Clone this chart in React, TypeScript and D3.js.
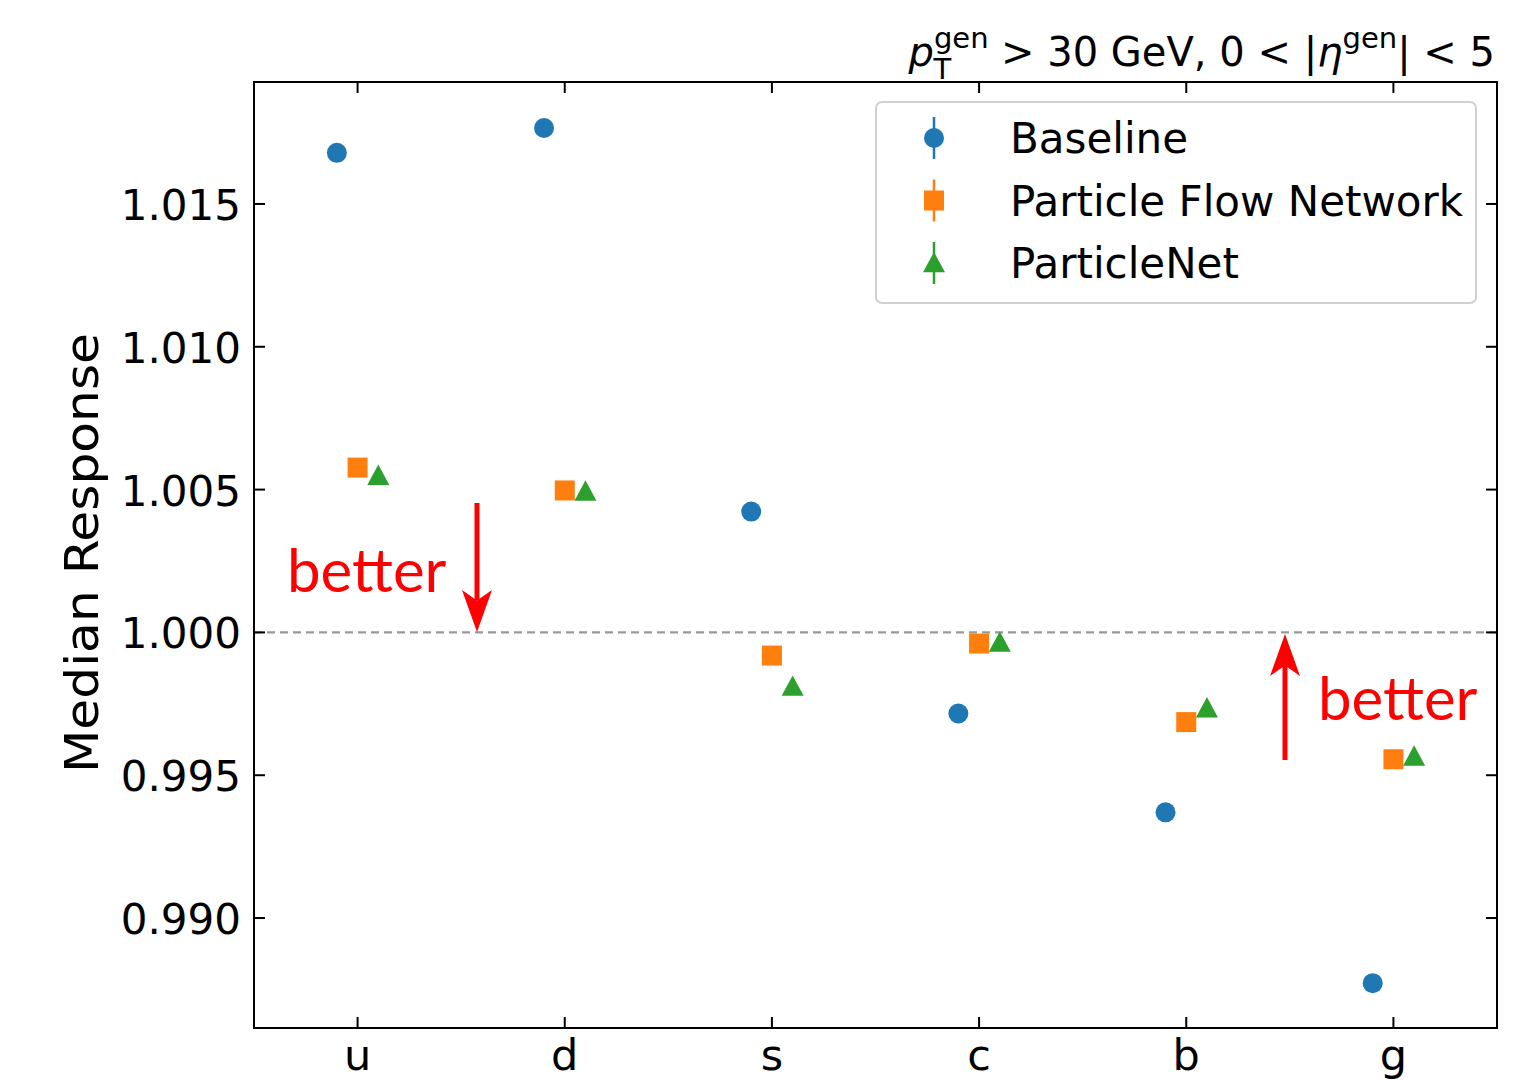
import React from "react";
import * as d3 from "d3";

const categories = ["u", "d", "s", "c", "b", "g"];
const baseline = [1.01679, 1.01766, 1.00423, 0.99716, 0.9937, 0.98772];
const pfn = [1.00577, 1.00497, 0.99919, 0.99961, 0.99686, 0.99556];
const particleNet = [1.00549, 1.00494, 0.99811, 0.99965, 0.99735, 0.99566];
const yTicks = [0.99, 0.995, 1.0, 1.005, 1.01, 1.015];
const seriesNames = ["Baseline", "Particle Flow Network", "ParticleNet"];
const seriesColors = ["#1f77b4", "#ff7f0e", "#2ca02c"];
const seriesOffsets = [-0.1, 0, 0.1];

const W = 1533, H = 1080;
const L = 254, R = 1497, T = 82, B = 1028;

export default function App() {
  const x = d3.scaleLinear().domain([-0.5, 5.5]).range([L, R]);
  const y = d3.scaleLinear().domain([0.98615, 1.01927]).range([B, T]);
  const font = "DejaVu Sans";
  const all = [baseline, pfn, particleNet];

  const marker = (s: number, cx: number, cy: number, key: string) => {
    const c = seriesColors[s];
    if (s === 0) return <circle key={key} cx={cx} cy={cy} r={10} fill={c} />;
    if (s === 1) return <rect key={key} x={cx - 10} y={cy - 10} width={20} height={20} fill={c} />;
    const h = 11;
    return <path key={key} d={`M${cx},${cy - h} L${cx + h},${cy + h * 0.85} L${cx - h},${cy + h * 0.85} Z`} fill={c} />;
  };

  const arrow = (x0: number, yStart: number, yTip: number) => {
    const dir = yTip > yStart ? 1 : -1;
    const headLen = 42, headW = 15;
    const base = yTip - dir * headLen;
    const notch = yTip - dir * headLen * 0.75;
    return (
      <g>
        <line x1={x0} y1={yStart} x2={x0} y2={notch} stroke="#ff0000" strokeWidth={5} />
        <path d={`M${x0},${yTip} L${x0 + headW},${base} L${x0},${notch} L${x0 - headW},${base} Z`} fill="#ff0000" />
      </g>
    );
  };

  return (
    <svg width={W} height={H} style={{ position: "absolute", left: 0, top: 0 }} fontFamily={font}>
      <rect width={W} height={H} fill="#fff" />
      {/* reference line */}
      <line x1={L} x2={R} y1={y(1.0)} y2={y(1.0)} stroke="#999" strokeWidth={2.2} strokeDasharray="8,5" />
      {/* data */}
      {all.map((vals, s) =>
        vals.map((v, i) => marker(s, x(i + seriesOffsets[s]), y(v), `m${s}-${i}`))
      )}
      {/* axes frame */}
      <rect x={L} y={T} width={R - L} height={B - T} fill="none" stroke="#000" strokeWidth={2} />
      {/* x ticks */}
      {categories.map((c, i) => (
        <g key={c}>
          <line x1={x(i)} x2={x(i)} y1={B} y2={B - 11} stroke="#000" strokeWidth={2} />
          <line x1={x(i)} x2={x(i)} y1={T} y2={T + 11} stroke="#000" strokeWidth={2} />
          <text x={x(i)} y={B + 42} fontSize={43} textAnchor="middle" fill="#000">{c}</text>
        </g>
      ))}
      {/* y ticks */}
      {yTicks.map((t) => (
        <g key={t}>
          <line x1={L} x2={L + 11} y1={y(t)} y2={y(t)} stroke="#000" strokeWidth={2} />
          <line x1={R} x2={R - 11} y1={y(t)} y2={y(t)} stroke="#000" strokeWidth={2} />
          <text x={L - 13} y={y(t) + 16} fontSize={42} textAnchor="end" fill="#000">{d3.format(".3f")(t)}</text>
        </g>
      ))}
      {/* y label */}
      <text transform={`translate(98,553) rotate(-90)`} fontSize={46} textAnchor="middle" fill="#000"
        textLength={440} lengthAdjust="spacingAndGlyphs">Median Response</text>
      {/* title */}
      <text x={1495} y={66} fontSize={40} textAnchor="end" fill="#000">
        <tspan fontStyle="italic">p</tspan>
        <tspan fontSize={29} dy={-18}>gen</tspan>
        <tspan fontSize={29} dx={-55} dy={31}>T</tspan>
        <tspan dx={37} dy={-13}> &gt; 30 GeV, 0 &lt; |</tspan>
        <tspan fontStyle="italic">η</tspan>
        <tspan fontSize={29} dy={-18}>gen</tspan>
        <tspan dy={18}>| &lt; 5</tspan>
      </text>
      {/* legend */}
      <rect x={876} y={102} width={600} height={201} rx={6} fill="#fff" fillOpacity={0.8} stroke="#d0d0d0" strokeWidth={2} />
      {seriesNames.map((n, s) => {
        const cy = 138 + s * 62.5;
        return (
          <g key={n}>
            <line x1={934} x2={934} y1={cy - 21} y2={cy + 21} stroke={seriesColors[s]} strokeWidth={2.5} />
            {marker(s, 934, cy, `leg${s}`)}
            <text x={1010} y={cy + 15} fontSize={42} fill="#000">{n}</text>
          </g>
        );
      })}
      {/* annotations */}
      {arrow(477, 503, 632)}
      <text x={287} y={592} fontSize={60} fill="#ff0000" fontFamily="Lato">better</text>
      {arrow(1285, 760, 634)}
      <text x={1318} y={720} fontSize={60} fill="#ff0000" fontFamily="Lato">better</text>
    </svg>
  );
}
